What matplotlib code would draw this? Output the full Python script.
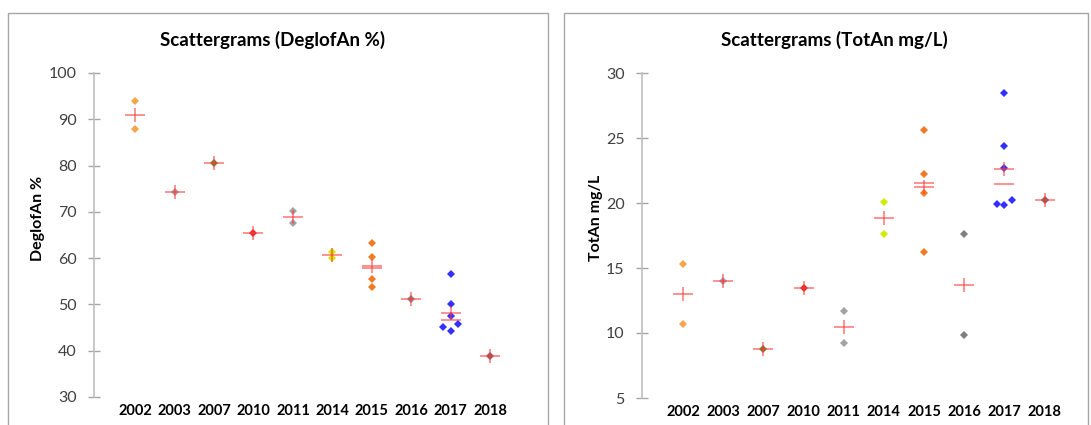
import matplotlib
matplotlib.use("Agg")
import matplotlib.pyplot as plt
from matplotlib.patches import Rectangle
import numpy as np

plt.rcParams['font.family'] = ['Lato', 'DejaVu Sans']

years = ['2002', '2003', '2007', '2010', '2011', '2014', '2015', '2016', '2017', '2018']
point_colors = ['#F7A54A', '#9E9EA8', '#6E7A2A', '#E02424', '#A3A3A3',
                '#D2EA00', '#F07B22', '#7F7F7F', '#3030FF', '#7F5A5A']

deglof = [
    [93.9, 88.0],
    [74.3],
    [80.5],
    [65.4],
    [70.2, 67.5],
    [61.3, 60.0],
    [63.2, 60.3, 55.5, 53.8],
    [51.1],
    [56.5, 50.2, 47.4, 45.8, 45.05, 44.25],
    [38.8],
]

totan = [
    [15.3, 10.7],
    [14.0],
    [8.75],
    [13.45],
    [11.7, 9.2],
    [20.05, 17.65],
    [25.65, 22.25, 20.8, 16.2],
    [17.6, 9.85],
    [28.45, 24.35, 22.7, 20.25, 19.95, 19.85],
    [20.2],
]

W, H = 1091, 425
fig = plt.figure(figsize=(W / 100, H / 100), dpi=100)

# panel frames
for x0, x1 in [(8, 548), (564, 1088)]:
    fig.patches.append(Rectangle((x0 / W, -0.1), (x1 - x0) / W, 1.1 - 13 / H,
                                 transform=fig.transFigure, fill=False,
                                 edgecolor='#A6A6A6', linewidth=1.0))


def jitter(vals, thr, d):
    """Spread overlapping points sideways (only for larger groups)."""
    offs = [0.0] * len(vals)
    if len(vals) <= 4:
        return offs
    order = np.argsort(vals)
    placed = []
    for i in order:
        for o in (0.0, -d, d):
            if all(not (po == o and abs(pv - vals[i]) < thr) for pv, po in placed):
                offs[i] = o
                placed.append((vals[i], o))
                break
    return offs


CROSS = '#FF3B3B'


def panel(rect, data, ylim, yticks, title, ylabel, title_x, ylabel_x, xlim):
    ax = fig.add_axes(rect)
    ax.set_xlim(*xlim)
    ax.set_ylim(*ylim)
    px_per_unit = rect[3] * H / (ylim[1] - ylim[0])
    thr = 7.5 / px_per_unit
    for i, vals in enumerate(data):
        offs = jitter(vals, thr, 0.19)
        xs = [i + o for o in offs]
        ax.plot(xs, vals, linestyle='none', marker='D', markersize=3.6,
                color=point_colors[i], markeredgewidth=0, zorder=3)
        m = np.mean(vals)
        med = np.median(vals)
        ax.plot([i], [m], linestyle='none', marker='|', markersize=10,
                markeredgewidth=1.3, color=CROSS, alpha=0.6, zorder=4)
        ax.plot([i], [m], linestyle='none', marker='_', markersize=14,
                markeredgewidth=1.3, color=CROSS, alpha=0.6, zorder=4)
        if abs(med - m) > 1e-9:
            ax.plot([i], [med], linestyle='none', marker='_', markersize=14,
                    markeredgewidth=1.3, color=CROSS, alpha=0.6, zorder=4)
    for s in ['top', 'right', 'bottom']:
        ax.spines[s].set_visible(False)
    ax.spines['left'].set_color('#BFBFBF')
    ax.spines['left'].set_linewidth(1.2)
    ax.set_yticks(yticks)
    ax.tick_params(axis='y', direction='inout', length=9, width=1, color='#A6A6A6',
                   labelsize=11.5, labelcolor='#404040', pad=8)
    ax.set_xticks(range(len(years)))
    ax.set_xticklabels(years, fontweight='bold', fontsize=10.5, color='#000000')
    ax.tick_params(axis='x', length=0, pad=5)
    fig.text(title_x / W, 1 - 40 / H, title, ha='center', va='center',
             fontsize=13.5, fontweight='bold')
    fig.text(ylabel_x / W, 1 - 218 / H, ylabel, ha='center', va='center',
             rotation=90, fontsize=11.5, fontweight='bold')
    return ax


panel([94 / W, (H - 397) / H, 435 / W, 324 / H], deglof, (30, 100),
      [30, 40, 50, 60, 70, 80, 90, 100], 'Scattergrams (DeglofAn %)', 'DeglofAn %',
      273, 38, (-1.04, 9.98))
panel([642 / W, (H - 398) / H, 442 / W, 325 / H], totan, (5, 30),
      [5, 10, 15, 20, 25, 30], 'Scattergrams (TotAn mg/L)', 'TotAn mg/L',
      834, 596, (-1.02, 9.98))

fig.savefig('out.png', dpi=100)
